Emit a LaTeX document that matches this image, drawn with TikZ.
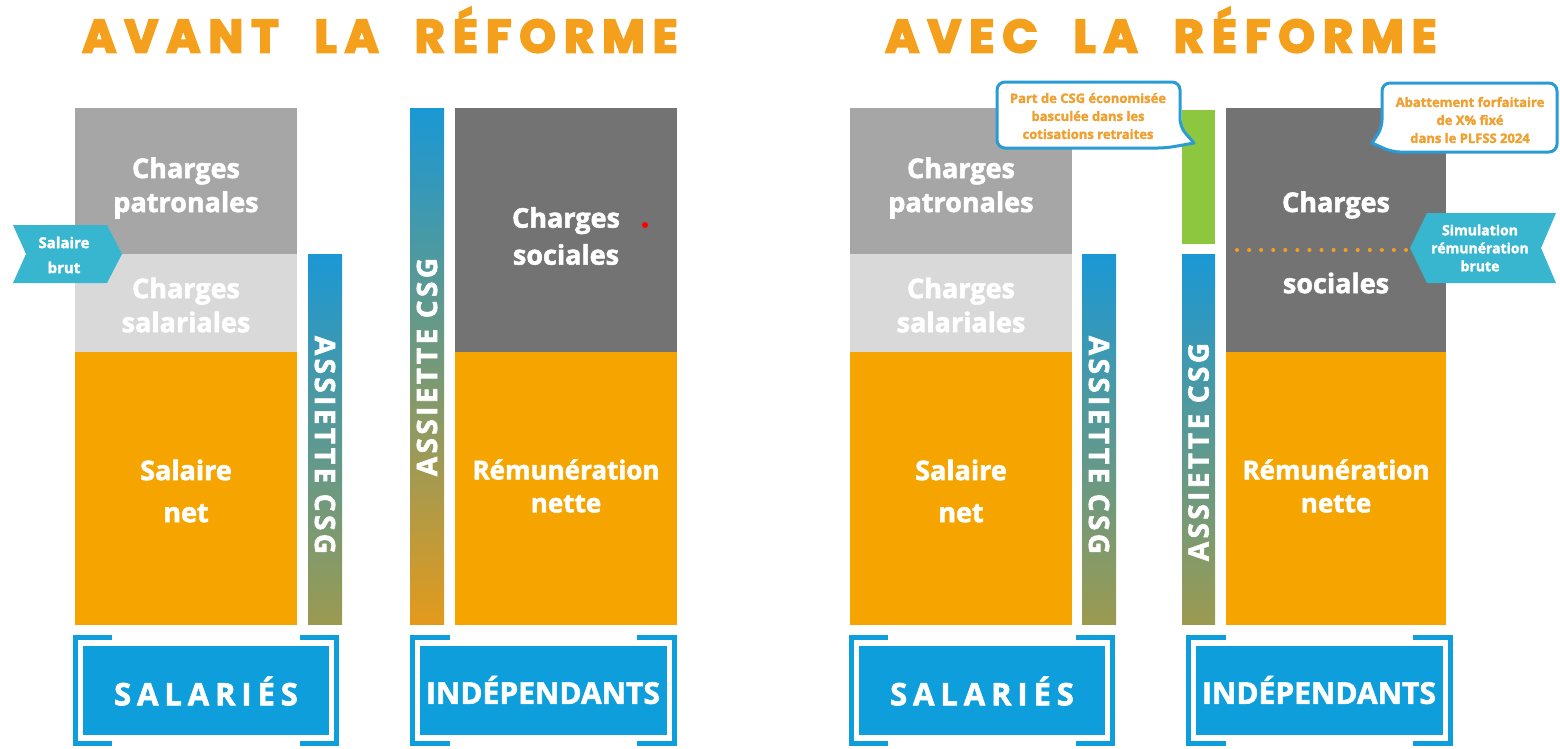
\documentclass[tikz,border=0pt]{standalone}
\usepackage{fontspec}
\setmainfont{Open Sans}
\newfontfamily\bodyfont{Open Sans}[BoldFeatures={FakeBold=2}]
\newfontfamily\spacedfont{Open Sans}[LetterSpace=19,BoldFeatures={FakeBold=2}]
\newfontfamily\csgfont{Open Sans}[LetterSpace=12,BoldFeatures={FakeBold=2}]
\newfontfamily\titlefont{Poppins}[LetterSpace=18,BoldFeatures={FakeBold=4.5}]
\definecolor{ttl}{HTML}{F5A01C}
\definecolor{org}{HTML}{F6A500}
\definecolor{gA}{HTML}{A6A6A6}
\definecolor{gB}{HTML}{D9D9D9}
\definecolor{gC}{HTML}{737373}
\definecolor{blu}{HTML}{0D9EDB}
\definecolor{csgtop}{HTML}{1A98D5}
\definecolor{csgbot}{HTML}{9C9A50}
\definecolor{csgorg}{HTML}{E39A1C}
\definecolor{cyantag}{HTML}{38B6CF}
\definecolor{grn}{HTML}{8DC63F}
\definecolor{cbord}{HTML}{2A9BD4}
\definecolor{ctext}{HTML}{EFA030}
\tikzset{
  lbl/.style={font=\bodyfont\bfseries\fontsize{27}{34}\selectfont, text=white, align=center, inner sep=0pt},
  csglbl/.style={font=\csgfont\bfseries\fontsize{28}{28}\selectfont, text=white, inner sep=0pt},
  titlelbl/.style={font=\titlefont\bfseries\fontsize{46}{46}\selectfont, text=ttl, inner sep=0pt},
  catlbl/.style={font=\spacedfont\bfseries\fontsize{31}{31}\selectfont, text=white, inner sep=0pt},
  catlblb/.style={font=\bodyfont\bfseries\fontsize{30}{30}\selectfont, text=white, inner sep=0pt},
  bracket/.style={draw=blu, line width=5pt},
  catbox/.style={fill=blu},
  tagshape/.style={fill=cyantag},
  taglbl/.style={font=\bodyfont\bfseries\fontsize{14}{18}\selectfont, text=white, align=center, inner sep=0pt},
  callout/.style={draw=cbord, line width=3pt, fill=white, line join=round},
  calllbl/.style={font=\bodyfont\bfseries\fontsize{13}{18}\selectfont, text=ctext, align=center, inner sep=0pt},
}
\begin{document}
\begin{tikzpicture}[x=1pt,y=-1pt]
\useasboundingbox[fill=white] (0,0) rectangle (1560,748);

% ---------------- titles
\node[titlelbl] (t1) at (380,30) {AVANT\hspace{36pt}LA\hspace{36pt}RÉFORME};
\node[titlelbl] (t2) at (1161,30) {AVEC\hspace{36pt}LA\hspace{36pt}RÉFORME};

% ================= LEFT PANEL
% salariés column
\fill[gA] (75,108) rectangle (297,254);
\fill[gB] (75,254) rectangle (297,352);
\fill[org] (75,352) rectangle (297,625);
\node[lbl] (cp1) at (186,188) {Charges\\patronales};
\node[lbl, text=white] (cs1) at (186,305) {Charges\\salariales};
\node[lbl, font=\bodyfont\bfseries\fontsize{27}{42}\selectfont] (sn1) at (186,491) {Salaire\\net};
% CSG bar salariés
\shade[top color=csgtop, bottom color=csgbot] (308,254) rectangle (342,624);
\node[csglbl, rotate=-90] (csg1) at (325,445) {ASSIETTE CSG};
% Salaire brut tag
\fill[tagshape] (13,225) -- (107,225) -- (122,254) -- (107,283) -- (13,283) -- (26,254) -- cycle;
\node[taglbl, font=\bodyfont\bfseries\fontsize{15}{25}\selectfont] (sb) at (64,255) {Salaire\\brut};

% indépendants
\shade[top color=csgtop, bottom color=csgorg, middle color=csgbot!70!csgtop] (410,108) rectangle (444,624);
\node[csglbl, rotate=90] (csg2) at (427,367) {ASSIETTE CSG};
\fill[gC] (455,108) rectangle (677,352);
\fill[org] (455,352) rectangle (677,625);
\node[lbl, font=\bodyfont\bfseries\fontsize{27}{37}\selectfont] (cso1) at (566,236) {Charges\\sociales};
\node[lbl, font=\bodyfont\bfseries\fontsize{26}{33}\selectfont] (rn1) at (566,486) {Rémunération\\nette};
\fill[red] (645,225) circle (3);

% categories
\fill[catbox] (83,646) rectangle (329,735);
\draw[bracket] (112,637.5) -- (75.5,637.5) -- (75.5,743.5) -- (112,743.5);
\draw[bracket] (300,637.5) -- (336.5,637.5) -- (336.5,743.5) -- (300,743.5);
\node[catlbl] (sal1) at (206,691) {SALARIÉS};

\fill[catbox] (420,646) rectangle (667,735);
\draw[bracket] (450,637.5) -- (412.5,637.5) -- (412.5,743.5) -- (450,743.5);
\draw[bracket] (637,637.5) -- (674.5,637.5) -- (674.5,743.5) -- (637,743.5);
\node[catlblb] (ind1) at (543,690) {INDÉPENDANTS};

% ================= RIGHT PANEL
\fill[gA] (850,108) rectangle (1072,254);
\fill[gB] (850,254) rectangle (1072,352);
\fill[org] (850,352) rectangle (1072,625);
\node[lbl] (cp2) at (961,188) {Charges\\patronales};
\node[lbl] (cs2) at (961,305) {Charges\\salariales};
\node[lbl, font=\bodyfont\bfseries\fontsize{27}{42}\selectfont] (sn2) at (961,491) {Salaire\\net};
\shade[top color=csgtop, bottom color=csgbot] (1082,254) rectangle (1116,624);
\node[csglbl, rotate=-90] (csg3) at (1099,445) {ASSIETTE CSG};

\fill[grn] (1182,110) rectangle (1215,244);
\shade[top color=csgtop, bottom color=csgbot] (1182,254) rectangle (1215,624);
\node[csglbl, rotate=90] (csg4) at (1198.5,452) {ASSIETTE CSG};

\fill[gC] (1226,108) rectangle (1446,352);
\fill[org] (1226,352) rectangle (1446,625);
\node[lbl] (ch2) at (1336,205) {Charges};
\node[lbl] (so2) at (1336,283) {sociales};
\coordinate (d1) at (1237,250);
\coordinate (d2) at (1418,250);
\draw[ttl, line width=4pt, line cap=round, dash pattern=on 0pt off 12.07pt] (d1) -- (d2);
\node[lbl, font=\bodyfont\bfseries\fontsize{26}{33}\selectfont] (rn2) at (1336,486) {Rémunération\\nette};

% Simulation tag
\fill[tagshape] (1427,213) -- (1556,213) -- (1541,248) -- (1556,283) -- (1427,283) -- (1410,248) -- cycle;
\node[taglbl] (sim) at (1480,248) {Simulation\\rémunération\\brute};

% callouts
\draw[callout] (997,115) [rounded corners=8] -- (997,82) -- (1180,82) -- (1180,127) [sharp corners] -- (1194,143) [rounded corners=8] -- (1166,148) -- (997,148) -- cycle;
\node[calllbl] (c1) at (1088,116) {Part de CSG économisée\\basculée dans les\\cotisations retraites};
\draw[callout] (1557,117) [rounded corners=8] -- (1557,152) -- (1392,152) [sharp corners] -- (1372,143) [rounded corners=8] -- (1382,128) -- (1382,83) -- (1557,83) -- cycle;
\node[calllbl] (c2) at (1470,120) {Abattement forfaitaire\\de X\% fixé\\dans le PLFSS 2024};

% categories right
\fill[catbox] (859,646) rectangle (1105,735);
\draw[bracket] (888,637.5) -- (851.5,637.5) -- (851.5,743.5) -- (888,743.5);
\draw[bracket] (1076,637.5) -- (1112.5,637.5) -- (1112.5,743.5) -- (1076,743.5);
\node[catlbl] (sal2) at (982,691) {SALARIÉS};

\fill[catbox] (1196,646) rectangle (1443,735);
\draw[bracket] (1226,637.5) -- (1188.5,637.5) -- (1188.5,743.5) -- (1226,743.5);
\draw[bracket] (1413,637.5) -- (1450.5,637.5) -- (1450.5,743.5) -- (1413,743.5);
\node[catlblb] (ind2) at (1319,690) {INDÉPENDANTS};
\end{tikzpicture}
\end{document}
